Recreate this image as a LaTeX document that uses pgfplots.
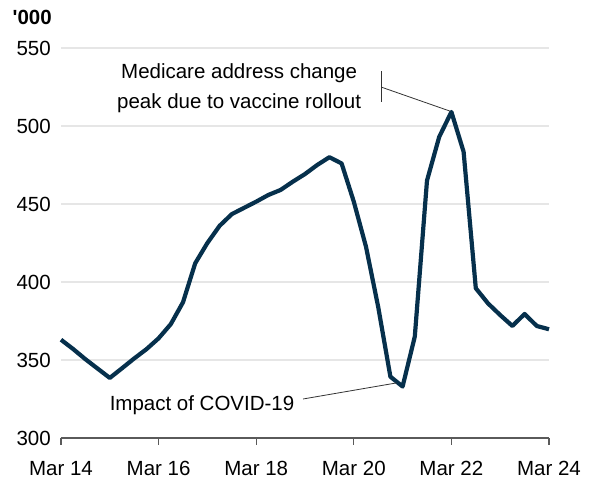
\documentclass[border=0pt]{standalone}
\usepackage{fontspec}
\setmainfont{Liberation Sans}
\usepackage{pgfplots}
\pgfplotsset{compat=1.18}
\definecolor{navy}{HTML}{06304C}
\definecolor{gridc}{HTML}{E6E6E6}
\definecolor{axc}{HTML}{5A5A5A}
\newcommand\cf{\fontsize{20.5}{24}\selectfont}
\begin{document}
\begin{tikzpicture}
\begin{axis}[
  at={(0,0)}, anchor=south west,
  scale only axis, width=488pt, height=390pt,
  xmin=0, xmax=40, ymin=300, ymax=550,
  axis x line*=bottom, axis y line*=left,
  y axis line style={draw=none},
  x axis line style={draw=axc, line width=1.2pt},
  xtick={0,8,16,24,32,40},
  xticklabels={Mar 14,Mar 16,Mar 18,Mar 20,Mar 22,Mar 24},
  ytick={300,350,400,450,500,550},
  ymajorgrids, grid style={gridc, line width=1.6pt},
  xtick style={draw=axc, line width=1.2pt},
  ytick style={draw=none},
  tick align=outside, major tick length=7pt,
  /pgf/number format/assume math mode=true,
  ticklabel style={font=\cf},
  yticklabel style={anchor=east, inner sep=0pt, xshift=-3pt},
  xticklabel style={anchor=north, inner sep=0pt, yshift=-16pt},
  clip=false,
]
\addplot[navy, line width=4.2pt, line join=round] coordinates {
(0,363) (1,357) (2,350.5) (3,344.5) (4,338.5) (5,344.7) (6,351) (7,356.9)
(8,363.9) (9,373) (10,387) (11,412) (12,425) (13,436) (14,443.5) (15,447.5)
(16,451.5) (17,455.8) (18,459) (19,464.3) (20,469.2) (21,475) (22,480) (23,476)
(24,451.5) (25,422.6) (26,384) (27,339.3) (28,333) (29,365) (30,465) (31,493)
(32,509) (33,483.5) (34,396) (35,386.3) (36,378.8) (37,371.8) (38,379.5) (39,371.8)
(40,369.7)
};
\node[font=\cf\bfseries, anchor=east, inner sep=0pt] at (axis cs:-0.74,569.5) {\textquotesingle000};
\node[font=\cf, align=center, inner sep=0pt] at (axis cs:14.6,524.2) {Medicare address change\\[6pt]peak due to vaccine rollout};
\draw[black!80, line width=0.8pt] (axis cs:26.3,535) -- (axis cs:26.3,515.5);
\draw[black!80, line width=0.8pt] (axis cs:26.3,524.8) -- (axis cs:31.9,509.5);
\node[font=\cf, inner sep=0pt] at (axis cs:11.56,321.2) {Impact of COVID-19};
\draw[black!80, line width=0.8pt] (axis cs:19.84,325) -- (axis cs:27.5,335.3);
\end{axis}
\path[use as bounding box] (-61pt,-48pt) rectangle (528pt,438pt);
\end{tikzpicture}
\end{document}
